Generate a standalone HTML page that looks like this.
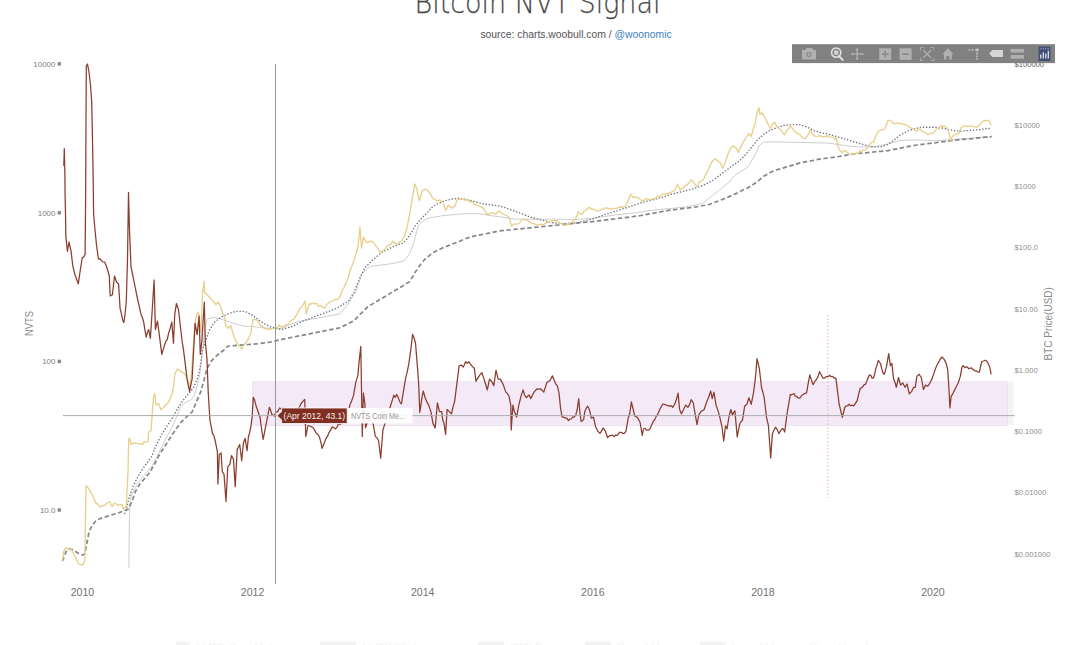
<!DOCTYPE html>
<html><head><meta charset="utf-8"><title>Bitcoin NVT Signal</title>
<style>
html,body{margin:0;padding:0;background:#fff;}
body{width:1080px;height:645px;overflow:hidden;position:relative;}
svg{position:absolute;left:0;top:0;font-family:'Liberation Sans', Arial, sans-serif;}
</style></head><body>
<svg width="1080" height="645" viewBox="0 0 1080 645">
<defs><filter id="soft" x="-2%" y="-2%" width="104%" height="104%"><feGaussianBlur stdDeviation="0.35"/></filter></defs>
<g filter="url(#soft)">
<rect x="1007.5" y="381.8" width="6" height="43.6" fill="#f7f2f7"/><rect x="252.5" y="381.8" width="755" height="43.6" fill="#f4e9f6" stroke="#e6dee9" stroke-width="0.8"/>
<line x1="827.8" y1="315" x2="827.8" y2="498" stroke="#e7b0b0" stroke-width="1" stroke-dasharray="1.5,2"/>
<polyline points="128.9,567.9 129.1,545 129.4,519.1 130.1,502 131.6,495 134.9,488.5 138.6,482 146.4,472.7 152.6,465 159.8,451 166,438 172,427.5 175.5,419.5 180.5,407 185.2,402.7 191.4,399.6 194.5,395 197.6,384.1 199.9,373.3 201.4,359.3 203,348 204.7,329.2 207.3,319 212.4,317.3 220.9,319 231.1,322.4 241.4,325.8 251.6,326.6 261.8,327.5 270,328.3 280,328.8 289,325 298,321.5 312,319 326,316.6 340,313.8 348.2,304 356.6,290.1 362.2,273.3 370.5,266.3 381.7,264.9 392.9,263.5 404,260.8 409.6,253.8 413.8,242.6 418,225.9 423.6,220.3 430,217.8 441.7,215.8 450,215 458.3,214.2 466.7,213.7 475,213.7 483.3,214.2 491.7,215.8 500,216.7 508.3,218.3 516.7,219.2 525,219.2 541.7,219.2 558.3,219.2 575,219.5 591.7,218.3 605,216.5 617.1,214.7 634.1,213 651.2,210.4 668.2,208.7 685.3,207 702.4,203.6 710.9,196.8 719.4,190 728,183.1 734.8,175.5 740,172 747.4,167.6 754.8,155.7 759.3,145.4 763.7,142.2 769.6,141.8 799.3,142.4 828.9,143.1 843.7,145.4 858.5,146.9 873.3,146.9 888.1,143.9 900,140.4 912.2,140 923.3,140.2 934.4,140.6 950,139.8 970,138.3 991,136.5" fill="none" stroke="#cdcdcd" stroke-width="1"/>
<polyline points="62.4,561.3 66.2,551.4 69.9,548.9 73.6,550.2 77.3,552.7 82.3,555.1 84.8,553.9 87.2,541.5 87.2,541.5 89,532 91.7,526.1 95.9,520.6 101,518.2 107,516.4 112,514.8 118.2,513 123.8,510.8 128,509.4 132.2,501 135.5,491.3 140.2,483.6 145.6,477.4 149.5,472.7 154.1,465 158.8,455.7 165,446 172.8,433.7 180.5,422.9 186.7,416.7 192.1,412 196,402.7 200.7,391.9 203.8,381 206.9,368.6 211.5,360.9 217.7,354.7 223.9,350 227.7,346.2 236.2,345.4 248.2,344.5 258.4,343.7 270,342.2 284,338.9 297.9,336.2 311.9,333.4 325.9,330.6 339.8,327.8 353.8,320.8 367.7,306.8 381.7,298.5 395.7,290.1 409.6,281.7 418,267.7 425,259 433.3,252.5 441.7,248.3 450,245 458.3,241.7 466.7,238.3 475,235.8 483.3,234.2 491.7,232.5 500,230.8 508.3,230 516.7,229.2 525,228.3 533.3,227.5 541.7,226.7 550,225.8 558.3,225 566.7,224.2 575,223.3 583.3,222.5 591.7,221.7 600,220.7 613.6,219 627.3,217.3 641,215.5 654.6,213 668.2,210.4 681.9,208.7 695.5,207 709.2,204.5 722.8,199.3 736.5,193.4 748.4,187.4 757,182 763.8,176.3 770.6,172.2 777,169.8 784.4,167.6 791.9,165.4 799.3,163.1 806.7,161.7 814.1,160.2 821.5,158.7 828.9,158 836.3,156.9 843.7,155.7 851.1,154.3 858.5,153.5 865.9,152.8 873.3,152 880.7,151.3 888.1,150.6 895.6,149.1 907.8,146.7 916.7,145 925.6,143.9 934.4,142.8 943.3,141.7 952.2,140.6 961.1,139.4 970,138.9 978.9,137.8 985.6,137.2 991.7,136.7" fill="none" stroke="#868686" stroke-width="1.7" stroke-dasharray="4.4,2.6"/>
<polyline points="124.5,514 126.2,510 128.7,498.7 133.3,486 138,476.4 142.6,469 147.3,462.4 151.9,455.9 155.7,446.4 160.3,437.1 165,429.1 171.2,419.8 177.4,408.9 183.6,399.6 189,393.4 193.7,387.2 197.6,377.9 199.9,368.6 201.4,359.3 202.3,350 205.6,341.1 209,330.9 214.1,322.4 220.9,317.3 227.7,313.9 236.2,311.3 244.8,311.3 251.6,314.7 258.4,319.8 265.2,324.1 270,326.5 281.2,329.6 292.3,326.4 303.5,320.8 314.7,316.6 325.9,312.4 337,308.2 348.2,301.2 353.8,292.9 359.4,278.9 364.9,267.7 373.3,259.4 381.7,252.4 392.9,246.8 404,242.6 409.6,235.6 415.2,225.9 422.2,217.5 425,215 431.7,207.5 438.3,203.3 445,200.8 451.7,199.2 458.3,198.3 465,199.2 471.7,200.8 478.3,202.5 485,204.2 491.7,205 498.3,205.8 505,207.5 511.7,210 518.3,212.5 525,215 531.7,217.5 538.3,219.2 545,220.8 551.7,222.5 558.3,223.3 565,223.7 571.7,223.3 578.3,222.5 585,220.8 591.7,219.2 598.3,217 605,214.5 610.2,213 620.5,209.6 630.7,206.2 641,202.8 651.2,200.2 661.4,197.6 671.7,194.2 681.9,191.7 692.1,189.1 702.4,185.7 712.6,180.6 722.8,172.9 733.1,165.2 740,160.5 745.9,154.3 751.9,146.9 757.8,139.4 763.7,134.3 769.6,130.6 777,127.6 784.4,125.4 791.9,124.6 799.3,124.6 806.7,126.9 814.1,130.6 821.5,132.8 828.9,134.3 836.3,136.5 843.7,138.7 851.1,140.9 858.5,143.1 865.9,145.4 873.3,146.9 880.7,146.9 888.1,144.2 894.1,140 900,135 907.8,131.1 914.4,128.9 921.1,127.2 927.8,127.2 934.4,127.2 941.1,127.8 947.8,129.4 954.4,130.6 961.1,131.1 967.8,130.6 974.4,130 981.1,129.4 985.6,128.9 991.1,128.3" fill="none" stroke="#6f7480" stroke-width="1.35" stroke-dasharray="1.4,1.75"/>
<polyline points="62.4,561.3 63.7,551.4 66.2,547.7 68.1,549.1 69.9,547.7 72.4,551.4 74.2,554.8 76.1,558.9 78.6,563.8 80.4,564.7 82.3,565.1 84.8,561.3 86.0,485.7 88.5,488.2 90.3,491.4 92.2,494.4 94.1,499.3 95.9,503.1 97.8,504.1 99.6,506.8 101.3,506.1 102.9,505.5 104.6,505.5 106.3,503.6 107.9,502.5 109.6,501.8 112.0,506.8 114.5,503.1 116.3,504.0 118.2,505.5 120.1,504.7 121.9,504.3 123.7,509.2 126.2,506.7 128.1,470.0 128.7,440.0 129.3,438.0 130.2,440.0 131.2,444.5 133.7,443.3 135.6,442.8 137.4,443.4 139.1,444.1 140.7,443.9 142.4,444.6 144.2,441.6 146.1,442.5 147.9,441.7 148.7,432.0 151.0,430.9 151.8,420.0 152.3,412.3 153.5,397.4 154.8,393.7 156.0,404.8 158.5,403.6 161.0,409.8 163.5,407.3 166.0,404.8 167.8,403.1 169.7,399.9 172.2,393.7 173.4,387.5 174.9,374.0 177.4,369.0 179.2,370.1 181.0,371.7 182.9,372.4 184.8,374.0 187.3,379.0 189.8,386.5 191.0,379.0 193.5,344.4 194.7,324.5 196.7,314.6 198.4,312.0 200.9,332.0 202.6,292.3 204.1,281.2 204.6,292.3 207.1,294.8 209.6,297.3 211.4,299.3 213.3,301.0 215.8,304.7 218.3,302.2 220.7,307.0 222.0,312.0 224.5,317.0 225.7,325.8 228.2,328.3 230.7,325.8 232.6,332.0 234.4,338.0 236.2,341.2 238.1,344.4 239.9,346.3 241.8,349.3 244.3,344.4 246.2,342.0 248.0,339.4 250.5,334.5 253.0,319.6 255.5,319.6 257.4,320.5 259.2,323.3 260.8,325.8 262.5,325.9 264.1,328.3 265.8,328.6 267.4,329.1 269.1,329.5 270.7,329.2 272.4,328.6 274.0,328.3 275.6,327.8 277.3,327.8 279.0,325.1 280.6,326.8 282.3,326.5 284.0,326.4 285.8,324.7 287.7,324.4 289.5,322.2 291.6,320.1 293.7,319.4 295.8,315.8 297.9,312.4 300.0,308.3 302.1,306.8 304.9,301.2 306.3,313.8 309.1,304.0 311.0,304.1 312.8,302.9 314.7,304.0 316.6,303.4 318.4,306.3 320.3,305.4 322.4,307.1 324.5,308.2 327.2,304.0 329.3,302.5 331.4,301.2 333.3,300.8 335.1,299.4 337.0,299.9 339.8,297.1 341.9,291.5 344.0,287.3 346.1,282.6 348.2,277.5 350.3,269.8 352.4,264.9 355.2,256.6 358.0,246.8 359.9,227.2 361.6,248.2 363.5,237.0 366.3,242.6 368.4,242.0 370.5,241.2 372.6,241.5 374.7,244.0 377.5,248.2 380.3,252.4 382.4,251.0 384.5,249.6 386.6,246.7 388.7,245.4 390.8,244.3 392.9,241.2 395.0,243.1 397.1,244.0 399.1,242.2 401.2,241.2 404.0,237.0 406.8,228.6 409.6,214.7 412.4,197.9 414.7,184.0 416.6,188.2 419.4,200.7 422.2,190.9 425.0,189.2 426.7,189.3 428.3,191.4 430.0,193.3 431.6,196.1 433.3,199.2 435.0,199.3 436.7,200.8 438.4,200.5 440.0,200.0 441.6,202.2 443.3,203.3 445.8,210.8 448.3,205.0 450.0,206.5 451.7,208.3 453.4,206.7 455.0,205.8 457.5,199.2 459.6,199.6 461.7,199.2 463.4,199.2 465.0,200.2 466.7,200.0 468.4,200.3 470.0,202.0 471.7,201.7 473.4,203.1 475.0,205.0 476.6,204.7 478.3,205.8 480.4,206.6 482.5,207.5 484.1,209.5 485.8,212.5 488.3,215.0 490.0,213.1 491.7,212.5 493.4,213.2 495.0,214.2 496.6,213.3 498.3,211.7 500.0,211.1 501.7,213.3 503.4,214.0 505.0,215.0 506.6,215.7 508.3,216.7 510.0,220.0 511.7,226.7 513.3,224.2 515.0,224.0 516.7,224.2 518.4,223.8 520.0,222.5 521.6,220.0 523.3,219.2 525.0,219.9 526.7,220.0 528.4,220.9 530.0,222.2 531.7,223.3 533.4,223.7 535.0,224.2 536.7,225.0 538.4,224.3 540.0,224.6 541.7,224.2 543.4,224.8 545.0,223.6 546.7,222.5 548.4,222.4 550.0,221.6 551.7,220.8 553.4,220.2 555.0,220.6 556.7,220.0 558.4,222.8 560.0,223.3 561.6,223.3 563.3,225.0 565.0,225.2 566.6,225.0 568.3,224.2 570.0,223.2 571.6,222.4 573.3,220.8 575.0,219.5 576.7,216.7 578.3,211.7 580.8,214.2 582.5,213.8 584.2,210.8 585.9,210.3 587.5,208.3 590.0,207.5 591.6,209.3 593.3,209.2 595.0,210.2 596.7,210.8 598.4,210.9 600.0,210.0 601.7,209.5 603.4,209.1 605.1,208.1 606.8,207.9 608.5,208.5 610.2,209.1 611.9,208.4 613.6,208.7 615.3,208.4 617.0,208.2 618.8,207.4 620.5,207.0 622.2,207.3 623.9,206.6 625.6,206.2 628.2,200.2 630.7,194.2 633.3,197.6 635.4,196.9 637.5,197.6 639.6,198.6 641.8,201.0 644.0,200.2 646.1,198.5 647.8,199.1 649.5,199.7 651.2,199.3 652.9,198.9 654.6,198.3 656.3,197.6 658.0,195.8 659.7,196.8 661.4,195.1 663.1,194.1 664.8,194.2 666.5,194.5 668.3,193.0 670.0,193.4 671.7,191.8 673.4,191.2 675.1,190.0 677.6,184.0 680.2,190.0 681.9,188.4 683.6,187.4 685.3,185.7 687.0,184.8 689.1,182.8 691.3,179.7 693.8,182.3 696.4,186.5 698.1,184.3 699.8,181.4 701.5,180.8 703.2,179.7 705.8,174.6 707.5,171.0 709.2,167.8 710.9,163.8 712.6,160.9 715.2,158.4 717.7,160.9 720.3,162.7 722.8,168.6 724.5,163.6 726.3,159.2 728.0,154.2 729.7,149.9 731.4,147.7 733.1,145.6 734.8,147.3 736.5,148.2 738.2,152.4 739.9,148.9 741.6,145.6 743.0,142.4 745.9,138.0 747.4,135.3 748.9,133.5 751.1,136.5 753.3,129.1 755.6,121.7 757.0,112.8 759.0,107.6 760.0,114.3 761.9,112.8 763.7,115.7 765.9,119.4 768.1,123.9 770.4,129.1 772.6,123.9 774.8,122.4 777.0,126.9 779.3,128.3 781.5,130.6 784.4,135.0 785.9,132.0 787.4,129.8 788.9,128.4 790.4,125.4 793.3,129.8 794.8,131.4 796.3,132.8 797.8,133.7 799.3,134.3 802.2,137.2 803.7,138.1 805.2,138.7 808.1,135.0 810.4,129.8 812.6,134.3 814.1,135.7 815.6,136.5 817.8,136.2 820.0,135.7 822.2,136.8 824.4,136.5 825.9,137.2 827.4,135.3 828.9,137.2 831.1,137.1 833.3,137.2 834.8,139.4 836.3,138.0 837.8,145.4 839.3,149.8 842.2,152.8 843.7,150.9 845.2,150.6 847.0,152.1 848.9,153.5 850.8,154.5 852.6,154.3 854.8,153.5 857.0,152.8 858.5,153.1 860.0,151.0 861.5,151.3 863.7,149.8 865.9,149.8 867.4,147.8 868.9,146.1 871.1,142.4 873.3,142.4 874.8,138.3 876.3,135.0 877.8,132.2 879.3,130.6 882.2,129.8 883.7,129.4 885.2,128.3 888.1,120.2 889.6,120.7 891.1,120.9 892.6,122.4 894.1,123.9 897.0,123.1 898.5,123.0 900.0,123.3 902.2,124.0 904.4,124.4 905.9,125.1 907.4,125.5 908.9,126.7 911.1,128.1 913.3,128.9 915.0,130.2 916.7,131.1 918.4,130.0 920.0,128.9 921.6,131.0 923.3,132.2 924.8,132.3 926.3,133.6 927.8,134.4 930.0,133.5 932.2,133.3 933.7,132.6 935.2,130.7 936.7,128.9 938.9,128.5 941.1,125.6 942.8,126.8 944.4,126.1 946.1,127.3 947.8,128.9 949.4,134.4 950.6,141.1 952.2,136.7 953.9,134.9 955.6,134.4 957.2,134.1 958.9,133.3 961.1,127.8 962.8,126.5 964.4,125.6 966.1,126.1 967.8,126.7 970.0,125.8 972.2,126.1 973.7,126.8 975.2,126.9 976.7,127.2 978.4,126.0 980.0,124.4 981.6,122.9 983.3,121.1 985.0,120.3 986.7,120.6 988.4,120.1 990.0,122.2 991.1,125.0" fill="none" stroke="#e8d08c" stroke-width="1.35" stroke-linejoin="round"/>
<polyline points="63.8,165.9 64.3,148.6 64.9,175.0 65.1,196.3 65.5,213.0 65.9,237.4 67.4,251.3 69.0,242.0 71.1,251.3 72.7,265.3 75.0,275.0 76.7,279.5 78.3,283.9 80.0,272.0 82.3,257.5 83.7,257.1 85.1,254.4 85.6,200.0 86.0,120.0 86.3,66.0 87.5,64.0 89.0,72.0 90.5,85.0 91.7,102.0 92.5,140.0 93.2,180.0 93.6,214.0 95.0,230.0 96.5,245.0 98.4,259.0 99.7,258.7 101.0,260.0 102.8,261.9 104.6,262.0 105.8,264.8 107.0,268.0 109.3,276.0 110.2,296.0 112.4,294.7 114.5,276.0 116.5,282.0 118.6,284.0 120.1,308.7 121.3,313.1 122.6,319.7 123.8,322.6 125.0,315.0 126.3,301.0 127.5,260.0 128.5,192.4 129.5,230.0 131.0,266.8 132.6,274.5 134.1,282.0 135.6,289.3 137.2,297.3 138.7,304.0 140.0,309.8 141.2,314.9 142.5,318.0 143.7,322.2 144.9,330.2 146.2,337.1 147.4,332.5 148.7,329.6 150.4,338.3 152.4,307.3 154.1,280.0 155.4,329.6 157.4,321.0 158.7,330.0 159.9,339.6 161.8,354.4 163.3,349.1 164.8,344.5 166.1,340.9 167.3,339.6 168.6,333.2 169.8,329.6 171.8,322.2 173.5,343.3 174.7,314.7 176.4,303.5 178.5,309.8 180.2,324.7 182.2,342.0 183.4,349.2 184.7,359.4 185.9,369.1 187.1,379.3 188.3,385.3 189.6,391.7 190.8,385.2 192.1,379.3 193.3,356.9 195.1,323.4 197.1,334.6 199.1,316.0 200.3,354.4 202.0,339.6 203.3,317.2 204.3,302.2 205.3,342.0 207.0,359.4 208.2,391.7 209.9,420.0 211.2,426.7 212.4,433.3 213.7,435.2 214.9,439.5 216.2,445.6 217.4,451.9 217.9,484.0 219.3,454.4 221.1,453.0 222.3,471.7 224.0,474.2 226.0,501.5 227.8,466.8 229.8,464.3 231.5,455.6 233.5,459.3 235.2,486.6 237.2,449.4 238.4,447.2 239.7,444.5 241.7,460.6 243.4,443.2 245.1,438.3 247.1,450.7 248.4,437.0 249.6,432.7 250.8,427.0 252.1,417.2 253.3,397.4 254.5,399.8 256.5,407.3 258.3,412.2 260.0,417.2 262.0,432.0 263.2,439.5 265.0,429.6 267.0,419.7 269.4,407.3 270.6,410.2 271.9,414.7 273.1,415.0 274.4,416.0 275.7,412.2 277.0,412.0 278.3,410.5 279.7,408.0 281.0,409.0 282.3,408.2 283.6,410.8 284.9,408.3 286.1,411.4 287.4,411.4 288.7,411.3 290.0,412.0 291.3,412.1 292.7,411.8 294.0,411.9 295.3,410.5 296.7,409.8 298.0,410.0 299.5,406.7 301.1,403.5 302.6,401.6 304.7,399.5 305.8,436.4 308.0,425.5 309.6,426.0 311.3,426.6 312.9,427.5 314.5,429.9 316.1,433.0 317.8,434.2 319.4,436.9 321.0,442.9 322.1,448.3 324.3,442.9 325.9,438.7 327.5,436.4 329.1,432.3 330.8,429.9 332.4,426.9 334.0,427.7 335.6,428.9 337.3,426.6 338.7,423.4 340.2,424.2 341.6,423.4 343.1,420.7 344.5,420.5 346.0,416.8 347.4,411.2 348.7,410.2 350.0,404.7 351.4,401.6 353.6,395.1 355.8,382.1 357.9,375.6 359.0,362.6 360.8,346.3 361.6,395.1 362.3,436.4 363.4,393.0 364.9,403.8 365.5,427.7 367.7,421.2 369.9,419.0 371.5,421.1 373.1,423.4 375.3,436.4 377.0,437.9 378.6,440.7 380.7,458.1 382.9,429.9 384.5,425.0 386.2,419.0 387.6,413.6 389.1,410.3 390.5,406.0 392.1,400.9 393.8,395.1 395.2,397.5 396.7,394.4 398.1,397.3 399.8,401.9 401.4,403.8 403.5,390.8 405.7,377.8 407.4,371.1 409.0,362.6 411.1,347.4 412.6,334.3 414.1,338.2 415.5,343.0 417.6,369.1 418.7,384.3 419.8,412.5 422.0,397.3 423.3,391.0 425.4,398.6 427.0,402.1 428.7,405.1 430.9,411.6 433.0,423.6 435.2,427.9 437.4,403.0 439.5,411.6 441.7,411.6 442.8,420.3 443.9,422.5 445.6,434.4 447.1,409.5 449.3,411.6 451.5,413.8 453.1,406.9 454.7,400.8 456.9,383.4 459.1,366.1 461.3,365.0 463.4,367.1 465.6,361.7 467.2,363.2 468.8,361.7 470.5,364.1 472.1,366.1 474.3,368.2 476.0,381.3 477.3,378.9 478.6,376.9 480.2,374.5 481.9,372.6 484.0,379.1 485.6,384.3 487.3,389.9 489.5,379.1 491.6,381.3 493.8,385.6 496.0,370.4 498.2,379.1 500.3,379.1 502.0,382.2 503.6,385.6 505.8,392.1 507.4,393.5 509.0,396.4 510.8,405.1 511.2,430.1 512.9,405.1 514.4,411.6 516.6,417.1 518.8,405.1 521.0,396.4 523.1,389.9 524.8,395.6 526.4,397.5 527.8,396.1 529.3,395.0 530.7,398.6 532.4,395.2 534.0,392.1 535.6,390.3 537.2,388.8 538.9,389.1 540.5,388.8 542.1,390.3 543.8,392.1 545.4,387.1 547.0,382.3 548.6,381.5 550.3,380.2 552.4,375.8 554.6,381.3 555.9,384.3 557.2,385.6 558.9,392.1 560.7,409.5 562.2,417.1 563.9,417.2 565.5,418.2 566.9,418.2 568.4,420.6 569.8,419.2 571.2,419.0 572.7,416.9 574.1,417.1 575.7,415.4 577.2,409.5 578.7,398.6 579.8,411.6 581.1,421.4 582.4,421.0 583.7,419.2 584.8,411.6 586.2,408.4 587.6,406.2 588.9,408.4 590.2,412.7 591.3,418.2 593.5,417.1 595.6,426.8 597.8,431.2 600.0,433.4 601.6,430.9 603.2,427.9 605.4,431.2 607.6,437.7 609.2,435.9 610.8,435.5 612.5,435.1 614.1,436.6 615.7,434.9 617.3,435.5 619.5,432.3 621.1,432.4 622.8,433.4 624.4,433.3 626.0,431.2 628.2,418.2 629.7,413.8 631.4,401.9 633.2,409.5 634.7,416.0 636.4,416.7 638.0,418.2 640.1,422.5 642.3,435.5 643.4,429.0 645.0,428.2 646.6,430.1 648.2,430.2 649.9,429.0 651.5,425.3 653.2,421.4 654.8,419.5 656.4,416.0 658.0,413.8 659.7,409.5 661.3,406.6 662.9,404.0 664.5,404.4 666.2,405.1 667.8,405.6 669.4,406.2 671.0,405.7 672.7,407.3 674.4,404.7 676.0,400.8 678.1,393.2 679.6,409.5 681.4,413.8 683.6,409.5 685.7,405.1 687.9,407.3 689.5,404.7 691.2,399.7 693.3,403.0 695.1,413.8 697.0,424.7 698.8,414.9 700.9,411.6 702.5,410.7 704.2,409.5 706.3,403.0 708.5,397.5 710.7,391.0 712.2,398.6 713.9,392.1 716.1,405.1 718.3,411.6 720.0,418.2 722.0,426.8 723.7,441.0 725.5,425.8 727.0,429.0 729.1,416.0 730.9,409.5 732.4,414.9 733.6,412.6 734.9,410.8 737.2,436.9 738.5,430.1 739.8,423.8 741.1,421.5 742.4,420.6 744.7,405.9 746.9,404.3 748.9,397.8 751.2,404.3 753.5,392.9 755.4,378.2 757.0,358.7 759.3,368.4 761.6,388.0 762.9,392.2 764.2,397.8 766.5,417.3 768.4,425.4 770.7,458.0 772.4,433.6 774.0,430.0 775.6,427.1 777.2,429.6 778.9,433.6 780.5,430.8 782.1,428.7 783.4,428.9 784.7,432.0 787.0,414.0 788.6,404.6 790.3,394.5 791.5,394.9 792.8,394.3 794.0,393.6 795.2,396.1 796.8,396.7 798.4,398.2 800.0,397.8 801.6,395.5 803.3,394.5 805.0,393.3 806.6,392.9 808.2,383.4 809.8,374.9 811.5,380.4 813.1,384.7 814.7,381.4 816.3,379.8 818.0,376.6 819.6,371.7 821.2,374.7 822.9,378.2 824.5,378.2 826.1,376.6 827.3,376.6 828.5,376.4 829.8,375.3 831.0,376.6 832.2,376.4 833.5,377.2 834.7,378.4 835.9,378.2 837.5,391.2 839.2,404.3 840.8,411.0 842.4,417.3 844.7,407.5 846.1,405.8 847.6,405.7 849.0,404.3 850.6,405.7 852.2,405.2 853.8,405.9 855.5,403.1 857.1,401.0 858.7,394.1 860.3,388.0 861.5,387.9 862.8,386.8 864.0,384.7 865.2,384.7 866.6,381.8 868.1,377.7 869.5,374.9 870.8,375.3 872.1,378.2 873.4,378.2 874.6,374.5 875.8,368.6 877.1,364.8 878.3,360.3 880.5,363.5 881.8,368.9 883.1,373.3 884.3,374.3 886.5,366.7 888.7,353.7 890.4,365.6 891.9,363.4 893.5,378.6 895.2,383.0 896.3,387.3 898.5,377.5 900.6,385.1 902.8,383.0 905.0,387.3 907.1,384.0 909.3,393.8 911.5,391.6 913.7,387.3 915.2,387.3 916.9,376.4 919.1,374.3 921.3,377.5 923.4,389.5 925.6,385.1 927.8,386.2 929.9,383.0 932.1,378.6 934.3,372.1 935.6,368.3 936.9,365.6 938.3,362.8 939.7,360.2 941.9,356.9 944.0,359.1 946.2,363.4 947.7,369.9 949.0,389.5 949.9,407.9 951.2,396.0 952.5,394.4 953.8,391.6 956.0,387.3 958.2,383.0 960.3,376.4 962.1,366.7 963.4,365.6 964.7,367.8 966.8,366.7 969.0,368.8 971.2,367.8 972.5,369.1 973.8,369.9 975.2,371.1 976.6,371.0 978.0,372.0 979.4,372.1 980.7,365.5 982.0,361.3 983.6,361.0 985.3,360.2 986.7,361.0 988.1,363.4 989.6,366.7 991.2,374.3" fill="none" stroke="#8a3d2e" stroke-width="1.25" stroke-linejoin="round"/>
<line x1="275.5" y1="64" x2="275.5" y2="584" stroke="#999" stroke-width="1"/>
<line x1="63" y1="415.6" x2="1014.5" y2="415.6" stroke="#adadad" stroke-width="1"/>
</g>
<text x="55.5" y="66.9" text-anchor="end" font-size="8" fill="#808080">10000</text>
<rect x="57.6" y="62.2" width="3.4" height="3.4" fill="#8a8a8a"/>
<text x="55.5" y="215.8" text-anchor="end" font-size="8" fill="#808080">1000</text>
<rect x="57.6" y="211.1" width="3.4" height="3.4" fill="#8a8a8a"/>
<text x="55.5" y="364.4" text-anchor="end" font-size="8" fill="#808080">100</text>
<rect x="57.6" y="359.7" width="3.4" height="3.4" fill="#8a8a8a"/>
<text x="55.5" y="513.0" text-anchor="end" font-size="8" fill="#808080">10.0</text>
<rect x="57.6" y="508.3" width="3.4" height="3.4" fill="#8a8a8a"/>
<text x="1014.5" y="66.7" font-size="7.6" fill="#5a5a5a">$100000</text>
<text x="1014.5" y="127.9" font-size="7.6" fill="#8c8c8c">$10000</text>
<text x="1014.5" y="189.2" font-size="7.6" fill="#8c8c8c">$1000</text>
<text x="1014.5" y="250.4" font-size="7.6" fill="#8c8c8c">$100.0</text>
<text x="1014.5" y="311.7" font-size="7.6" fill="#8c8c8c">$10.00</text>
<text x="1014.5" y="372.9" font-size="7.6" fill="#8c8c8c">$1.000</text>
<text x="1014.5" y="434.1" font-size="7.6" fill="#8c8c8c">$0.1000</text>
<text x="1014.5" y="495.4" font-size="7.6" fill="#8c8c8c">$0.01000</text>
<text x="1014.5" y="556.6" font-size="7.6" fill="#8c8c8c">$0.001000</text>
<text x="82.5" y="595.5" text-anchor="middle" font-size="11" fill="#727272" textLength="23.5" lengthAdjust="spacingAndGlyphs">2010</text>
<text x="252.6" y="595.5" text-anchor="middle" font-size="11" fill="#727272" textLength="23.5" lengthAdjust="spacingAndGlyphs">2012</text>
<text x="422.7" y="595.5" text-anchor="middle" font-size="11" fill="#727272" textLength="23.5" lengthAdjust="spacingAndGlyphs">2014</text>
<text x="592.8" y="595.5" text-anchor="middle" font-size="11" fill="#727272" textLength="23.5" lengthAdjust="spacingAndGlyphs">2016</text>
<text x="762.9" y="595.5" text-anchor="middle" font-size="11" fill="#727272" textLength="23.5" lengthAdjust="spacingAndGlyphs">2018</text>
<text x="933.0" y="595.5" text-anchor="middle" font-size="11" fill="#727272" textLength="23.5" lengthAdjust="spacingAndGlyphs">2020</text>
<text transform="translate(33,323.5) rotate(-90)" text-anchor="middle" font-size="10" fill="#8a8a8a" textLength="25" lengthAdjust="spacingAndGlyphs">NVTS</text>
<text transform="translate(1052,323.8) rotate(-90)" text-anchor="middle" font-size="10" fill="#8a8a8a">BTC Price(USD)</text>
<text x="414.5" y="13.4" font-family="'DejaVu Sans', sans-serif" font-weight="200" font-size="31" fill="#484848" stroke="#484848" stroke-width="0.25" textLength="246" lengthAdjust="spacingAndGlyphs">Bitcoin NVT Signal</text>
<text x="480.4" y="38.3" font-size="11.6" fill="#555" textLength="191.3" lengthAdjust="spacingAndGlyphs">source: charts.woobull.com / <tspan fill="#3d7fc1">@woonomic</tspan></text>
<path d="M277,415.7 L281.6,411.5 L281.6,408 L347.2,408 L347.2,423.5 L281.6,423.5 L281.6,419.9 Z" fill="#7f2e22" stroke="#fff" stroke-width="0.8"/>
<text x="314.3" y="419.3" text-anchor="middle" font-size="9.5" fill="#fbeee6" textLength="61.5" lengthAdjust="spacingAndGlyphs">(Apr 2012, 43.1)</text>
<rect x="347.5" y="408" width="65" height="15.5" fill="#fff" fill-opacity="0.92"/>
<text x="351" y="419.3" font-size="9.5" fill="#959595" textLength="54" lengthAdjust="spacingAndGlyphs">NVTS Coin Me...</text>
<g fill="#f3f3f3" font-size="11"><rect x="176" y="641.5" width="14" height="3.5"/><text x="196" y="650.5">NVTS Coin Metrics</text><rect x="320" y="641.5" width="36" height="3.5"/><text x="362" y="650.5">NVTS 90 day</text><rect x="478" y="641.5" width="26" height="3.5"/><text x="510" y="650.5">BTC Price</text><rect x="585" y="641.5" width="26" height="3.5"/><text x="617" y="650.5">Price MA</text><rect x="700" y="641.5" width="26" height="3.5"/><text x="732" y="650.5">Long MA</text><text x="810" y="650.5">Signal band</text></g>
<rect x="792" y="44.2" width="263" height="18.9" fill="#818181"/>
<path d="M802,50 L805,50 L806.5,48 L812,48 L813.5,50 L816,50 L816,59.4 L802,59.4 Z" fill="#b0b0b0"/>
<circle cx="809" cy="54.5" r="2.6" fill="#8a8a8a"/>
<circle cx="809" cy="54.5" r="1.3" fill="#b0b0b0"/>
<circle cx="836.2" cy="52.6" r="4.6" fill="none" stroke="#e2e2e2" stroke-width="1.6"/>
<rect x="834" y="50.4" width="4.4" height="4.4" fill="#d0d0d0"/>
<line x1="838.9" y1="56" x2="842.8" y2="60" stroke="#e2e2e2" stroke-width="1.8" stroke-linecap="round"/>
<path d="M851.3,53.9 L863.5,53.9 M857.2,48.4 L857.2,59.8" stroke="#b0b0b0" stroke-width="1.4"/>
<path d="M851,53.9 L853.2,52.2 L853.2,55.6 Z M863.8,53.9 L861.6,52.2 L861.6,55.6 Z M857.2,48.1 L855.5,50.3 L858.9,50.3 Z M857.2,60.1 L855.5,57.9 L858.9,57.9 Z" fill="#b0b0b0"/>
<rect x="879.2" y="48.3" width="12" height="11.6" fill="#b0b0b0"/>
<path d="M882,54.1 L888.4,54.1 M885.2,51 L885.2,57.2" stroke="#8a8a8a" stroke-width="1.6"/>
<rect x="899.6" y="48.3" width="12" height="11.6" fill="#b0b0b0"/>
<path d="M902.4,54.1 L908.8,54.1" stroke="#8a8a8a" stroke-width="1.8"/>
<path d="M920.5,50.5 L920.5,47.5 L923.5,47.5 M930.8,47.5 L933.8,47.5 L933.8,50.5 M933.8,57.5 L933.8,60.5 L930.8,60.5 M923.5,60.5 L920.5,60.5 L920.5,57.5" fill="none" stroke="#b0b0b0" stroke-width="0.9"/>
<path d="M923.3,50.3 L931,57.7 M931,50.3 L923.3,57.7" stroke="#b0b0b0" stroke-width="1.3"/>
<path d="M942.3,54.2 L947.9,48.3 L953.5,54.2 L951.8,54.2 L951.8,59.4 L949.4,59.4 L949.4,56 L946.4,56 L946.4,59.4 L944,59.4 L944,54.2 Z" fill="#b0b0b0"/>
<rect x="975.4" y="48.6" width="3.2" height="2.6" fill="#c8c8c8"/>
<circle cx="969.5" cy="49.9" r="0.9" fill="#c8c8c8"/><circle cx="972.6" cy="49.9" r="0.9" fill="#c8c8c8"/>
<circle cx="977" cy="53.4" r="0.9" fill="#c8c8c8"/><circle cx="977" cy="56.2" r="0.9" fill="#c8c8c8"/><circle cx="977" cy="58.8" r="0.9" fill="#c8c8c8"/>
<path d="M989.2,53.4 L992.4,49.9 L1003,49.9 L1003,56.9 L992.4,56.9 Z" fill="#d6d6d6"/>
<rect x="1010.5" y="48.9" width="13.4" height="3.7" fill="#b0b0b0"/>
<rect x="1010.5" y="55" width="13.4" height="3.7" fill="#b0b0b0"/>
<rect x="1038.6" y="46.6" width="11.8" height="14.4" fill="#3f4f75"/>
<path d="M1040.8,54.5 L1040.8,58.6 M1043.3,52.3 L1043.3,58.6 M1045.8,53.5 L1045.8,58.6 M1048.3,50.8 L1048.3,58.6" stroke="#e8ecf5" stroke-width="1.2"/>
<path d="M1040.5,48.8 L1049,48.8" stroke="#fff" stroke-width="0.8" stroke-dasharray="0.9,1.5"/>
</svg>
</body></html>
